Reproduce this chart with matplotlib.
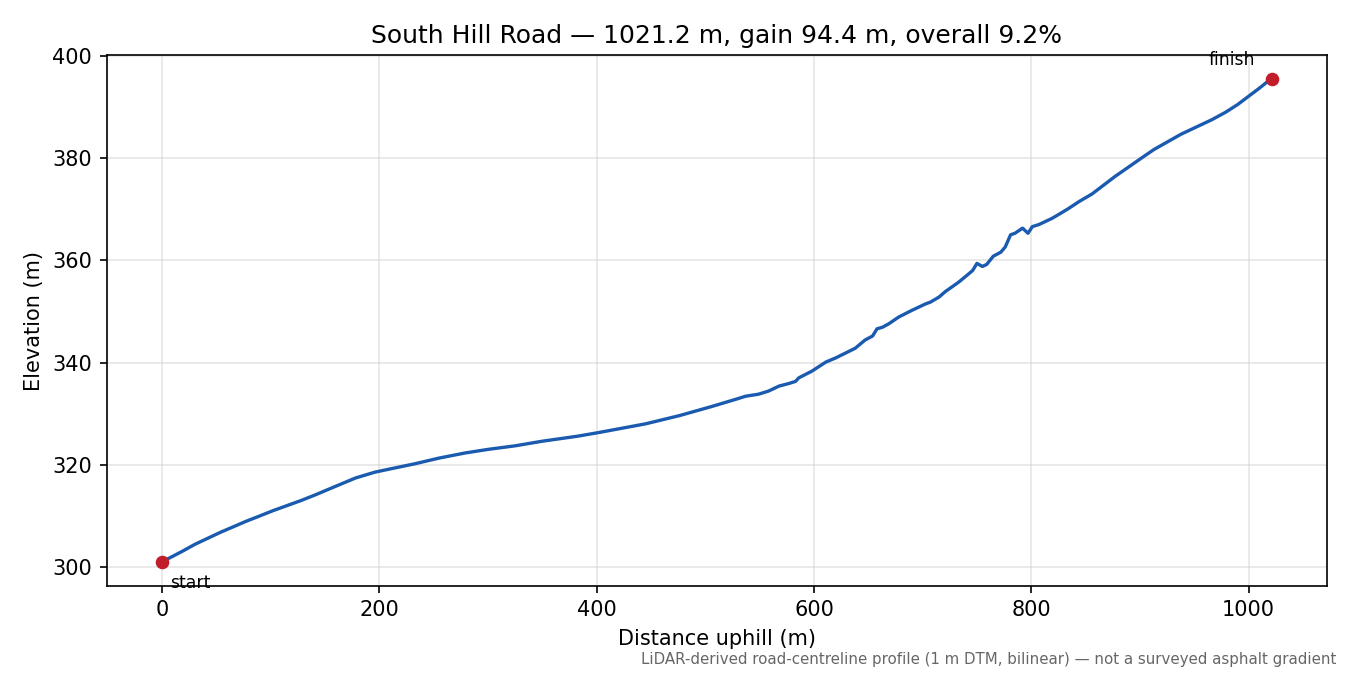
import numpy as np
import matplotlib
matplotlib.use("Agg")
import matplotlib.pyplot as plt

# profile, distance along road (m) vs elevation (m)
distance = [0, 10, 19, 30, 43, 54, 65, 77, 89, 102, 115, 128, 141, 160, 178,
            196, 215, 233, 255, 279, 300, 325, 350, 383, 402, 445, 476, 506,
            528, 537, 549, 558, 568, 577, 583, 586, 598, 611, 620, 638, 647,
            654, 658, 663, 669, 678, 690, 703, 707, 715, 721, 733, 741, 746,
            750, 755, 759, 765, 772, 776, 781, 785, 792, 797, 801, 807, 813,
            819, 827, 834, 844, 856, 877, 902, 913, 923, 938, 954, 966, 979,
            990, 1000, 1010, 1017, 1021.2]
elevation = [301.0, 302.1, 303.1, 304.4, 305.7, 306.8, 307.8, 308.9, 309.9,
             311.0, 312.0, 313.0, 314.1, 315.8, 317.4, 318.55, 319.4, 320.2,
             321.3, 322.3, 323.0, 323.7, 324.6, 325.6, 326.3, 328.0, 329.6,
             331.4, 332.8, 333.4, 333.8, 334.4, 335.4, 335.9, 336.3, 337.0,
             338.3, 340.1, 340.9, 342.8, 344.4, 345.2, 346.6, 346.9, 347.6,
             348.9, 350.2, 351.5, 351.8, 352.8, 353.9, 355.7, 357.1, 358.0,
             359.4, 358.8, 359.2, 360.8, 361.6, 362.6, 365.0, 365.3, 366.3,
             365.3, 366.6, 367.0, 367.6, 368.2, 369.2, 370.1, 371.5, 373.0,
             376.4, 380.1, 381.7, 382.9, 384.7, 386.3, 387.5, 389.0, 390.5,
             392.1, 393.7, 394.9, 395.4]

road = "South Hill Road"
length = distance[-1]
gain = elevation[-1] - elevation[0]

fig, ax = plt.subplots(figsize=(9, 4.5), dpi=150)
ax.plot(distance, elevation, color="#1a5aaf", lw=1.6)
ax.plot([distance[0], distance[-1]], [elevation[0], elevation[-1]], "o",
        color="#c21d2a", ms=5.5)

ax.annotate("start", (distance[0], elevation[0]), xytext=(4, -6),
            textcoords="offset points", ha="left", va="top", fontsize=8.3)
ax.annotate("finish", (distance[-1], elevation[-1]), xytext=(-8, 5),
            textcoords="offset points", ha="right", va="bottom", fontsize=8.3)

ax.set_title(f"{road} — {length:.1f} m, gain {gain:.1f} m, overall {gain / length * 100:.1f}%",
             fontsize=12)
ax.set_xlabel("Distance uphill (m)")
ax.set_ylabel("Elevation (m)")
ax.grid(True, color="#cccccc", alpha=0.5, lw=0.8)
ax.set_axisbelow(True)

fig.text(0.99, 0.012, "LiDAR-derived road-centreline profile (1 m DTM, bilinear) — not a surveyed asphalt gradient",
         ha="right", va="bottom", fontsize=7.2, color="#666666")

fig.subplots_adjust(left=0.079, right=0.983, top=0.918, bottom=0.132)
fig.savefig("out.png")
